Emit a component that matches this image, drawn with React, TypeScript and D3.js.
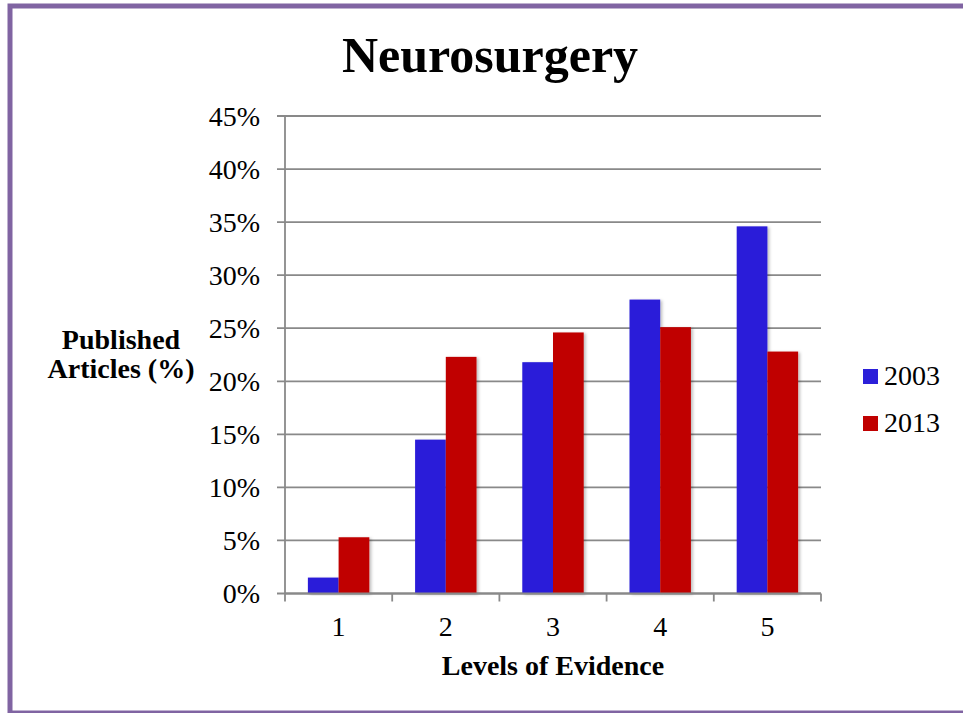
import * as d3 from "d3"
import { useRef, useEffect } from "react"

const levels = ["1", "2", "3", "4", "5"]
const years = ["2003", "2013"]
const values2003 = [1.5, 14.5, 21.8, 27.7, 34.6]
const values2013 = [5.3, 22.3, 24.6, 25.1, 22.8]
const yTicks = [0, 5, 10, 15, 20, 25, 30, 35, 40, 45]

const colors = { "2003": "#2b1fd9", "2013": "#c00000" }

const App = () => {
  const ref = useRef<HTMLDivElement>(null)
  const width = 963
  const height = 713
  const left = 285
  const right = 821
  const top = 116
  const bottom = 593.5
  const font = "'Liberation Serif', 'Times New Roman', serif"

  useEffect(() => {
    const svg = d3.select(ref.current).select("svg")
    svg.selectAll("*").remove()

    const defs = svg.append("defs")
    defs
      .append("filter")
      .attr("id", "shadow")
      .attr("x", "-20%")
      .attr("y", "-5%")
      .attr("width", "150%")
      .attr("height", "115%")
      .append("feDropShadow")
      .attr("dx", 2)
      .attr("dy", 1)
      .attr("stdDeviation", 1.5)
      .attr("flood-color", "#000")
      .attr("flood-opacity", 0.25)

    // frame
    svg
      .append("rect")
      .attr("x", 10)
      .attr("y", 6)
      .attr("width", 1000)
      .attr("height", 707)
      .attr("fill", "white")
      .attr("stroke", "#8064a2")
      .attr("stroke-width", 5)

    // title
    svg
      .append("text")
      .attr("x", 490)
      .attr("y", 72)
      .attr("text-anchor", "middle")
      .attr("font-family", font)
      .attr("font-weight", "bold")
      .attr("font-size", "50px")
      .text("Neurosurgery")

    // scales
    const x0 = d3.scaleBand().domain(levels).range([left, right]).padding(0)
    const groupW = x0.bandwidth() * 0.573
    const x1 = d3.scaleBand().domain(years).range([0, groupW]).padding(0)
    const y = d3.scaleLinear().domain([0, 45]).range([bottom, top])

    // gridlines
    svg
      .append("g")
      .selectAll("line")
      .data(yTicks)
      .join("line")
      .attr("x1", left - 8)
      .attr("x2", right)
      .attr("y1", (d) => y(d))
      .attr("y2", (d) => y(d))
      .attr("stroke", "#898989")
      .attr("stroke-width", 1.8)

    // y axis line
    svg
      .append("line")
      .attr("x1", left)
      .attr("x2", left)
      .attr("y1", top)
      .attr("y2", bottom)
      .attr("stroke", "#898989")
      .attr("stroke-width", 1.8)

    // y tick labels
    svg
      .append("g")
      .selectAll("text")
      .data(yTicks)
      .join("text")
      .attr("x", 260)
      .attr("y", (d) => y(d))
      .attr("dy", "0.35em")
      .attr("text-anchor", "end")
      .attr("font-family", font)
      .attr("font-size", "28px")
      .text((d) => d + "%")

    // bars
    const rows = levels.map((l, i) => ({ level: l, "2003": values2003[i], "2013": values2013[i] }))
    svg
      .append("g")
      .selectAll("g")
      .data(rows)
      .join("g")
      .attr("transform", (d) => `translate(${x0(d.level)! + (x0.bandwidth() - groupW) / 2},0)`)
      .selectAll("rect")
      .data((d) => years.map((yr) => ({ yr, v: d[yr] })))
      .join("rect")
      .attr("x", (d) => x1(d.yr)!)
      .attr("y", (d) => y(d.v))
      .attr("width", x1.bandwidth())
      .attr("height", (d) => bottom - y(d.v))
      .attr("fill", (d) => colors[d.yr])
      .attr("filter", "url(#shadow)")

    // x axis
    svg
      .append("line")
      .attr("x1", left)
      .attr("x2", right)
      .attr("y1", bottom)
      .attr("y2", bottom)
      .attr("stroke", "#898989")
      .attr("stroke-width", 1.8)
    const xTicks = levels.map((l) => x0(l)!).concat([right])
    svg
      .append("g")
      .selectAll("line")
      .data(xTicks)
      .join("line")
      .attr("x1", (d) => d)
      .attr("x2", (d) => d)
      .attr("y1", bottom)
      .attr("y2", bottom + 8)
      .attr("stroke", "#898989")
      .attr("stroke-width", 1.8)
    svg
      .append("g")
      .selectAll("text")
      .data(levels)
      .join("text")
      .attr("x", (d) => x0(d)! + x0.bandwidth() / 2)
      .attr("y", 636)
      .attr("text-anchor", "middle")
      .attr("font-family", font)
      .attr("font-size", "28px")
      .text((d) => d)

    // axis titles
    svg
      .append("text")
      .attr("x", (left + right) / 2)
      .attr("y", 675)
      .attr("text-anchor", "middle")
      .attr("font-family", font)
      .attr("font-weight", "bold")
      .attr("font-size", "28px")
      .text("Levels of Evidence")
    const yTitle = svg
      .append("text")
      .attr("text-anchor", "middle")
      .attr("font-family", font)
      .attr("font-weight", "bold")
      .attr("font-size", "28px")
    yTitle.append("tspan").attr("x", 121).attr("y", 349).text("Published")
    yTitle.append("tspan").attr("x", 121).attr("y", 378).text("Articles (%)")

    // legend
    const legend = svg
      .append("g")
      .selectAll("g")
      .data(years)
      .join("g")
      .attr("transform", (d, i) => `translate(863,${369 + i * 47})`)
    legend
      .append("rect")
      .attr("width", 15)
      .attr("height", 15)
      .attr("fill", (d) => colors[d])
    legend
      .append("text")
      .attr("x", 21)
      .attr("y", 16)
      .attr("font-family", font)
      .attr("font-size", "28px")
      .text((d) => d)
  }, [])

  return (
    <div ref={ref} style={{ position: "absolute", left: 0, top: 0 }}>
      <svg width={width} height={height} style={{ display: "block" }}></svg>
    </div>
  )
}

export default App
